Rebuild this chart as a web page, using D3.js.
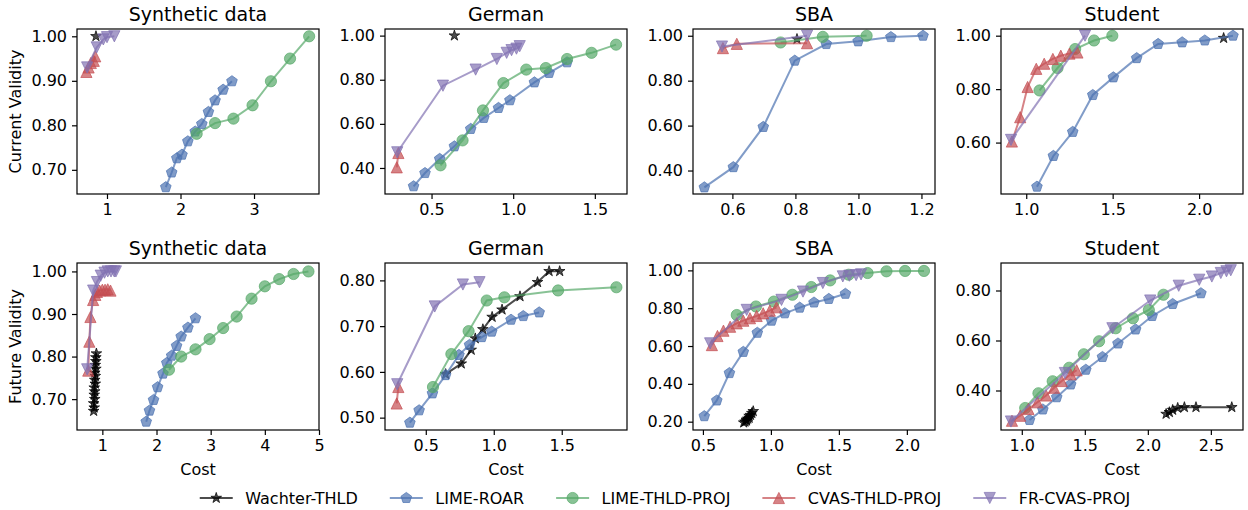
<!DOCTYPE html>
<html>
<head>
<meta charset="utf-8">
<script src="https://cdn.jsdelivr.net/npm/d3@7"></script>
<style>
  body { margin: 0; background: #fff; }
  svg text { font-family: "DejaVu Sans", sans-serif; fill: #000; }
</style>
</head>
<body>
<svg id="chart" width="1248" height="510"></svg>
<script>
const seriesNames = ["Wachter-THLD", "LIME-ROAR", "LIME-THLD-PROJ", "CVAS-THLD-PROJ", "FR-CVAS-PROJ"];
const seriesColors = ["#000000", "#4C72B0", "#55A868", "#C44E52", "#8172B2"];
const seriesMarkers = ["star", "pentagon", "circle", "triangleUp", "triangleDown"];
const datasetTitles = ["Synthetic data", "German", "SBA", "Student"];
const rowLabels = ["Current Validity", "Future Validity"];

// [cost, validity] pairs, one list per series (same order as seriesNames)
const curSynthetic = [
  [[0.85, 1.00]],
  [[1.80, 0.661], [1.88, 0.694], [1.95, 0.726], [2.02, 0.734], [2.10, 0.764], [2.20, 0.786], [2.29, 0.803], [2.38, 0.830], [2.47, 0.856], [2.58, 0.880], [2.70, 0.899]],
  [[2.22, 0.781], [2.47, 0.805], [2.72, 0.815], [2.98, 0.845], [3.23, 0.899], [3.49, 0.950], [3.75, 1.000]],
  [[0.72, 0.920], [0.75, 0.930], [0.78, 0.940], [0.82, 0.945], [0.84, 0.955]],
  [[0.73, 0.930], [0.86, 0.975], [0.95, 0.993], [1.00, 0.998], [1.10, 1.000]]
];
const curGerman = [
  [[0.64, 1.00]],
  [[0.39, 0.317], [0.46, 0.377], [0.55, 0.441], [0.64, 0.498], [0.74, 0.577], [0.82, 0.627], [0.91, 0.672], [0.98, 0.707], [1.13, 0.788], [1.22, 0.831], [1.33, 0.879]],
  [[0.555, 0.412], [0.69, 0.525], [0.815, 0.661], [0.94, 0.785], [1.08, 0.846], [1.20, 0.853], [1.33, 0.894], [1.48, 0.922], [1.63, 0.959]],
  [[0.287, 0.403], [0.297, 0.468]],
  [[0.29, 0.471], [0.57, 0.773], [0.77, 0.846], [0.90, 0.894], [0.96, 0.922], [0.99, 0.934], [1.02, 0.941], [1.04, 0.952]]
];
const curSBA = [
  [[0.805, 0.985]],
  [[0.511, 0.325], [0.603, 0.415], [0.698, 0.594], [0.798, 0.889], [0.898, 0.963], [0.999, 0.975], [1.103, 0.994], [1.205, 1.000]],
  [[0.753, 0.970], [0.887, 0.995], [1.026, 1.000]],
  [[0.570, 0.945], [0.614, 0.964], [0.837, 0.967]],
  [[0.567, 0.952], [0.837, 1.000]]
];
const curStudent = [
  [[2.142, 0.991]],
  [[1.062, 0.435], [1.157, 0.550], [1.269, 0.640], [1.385, 0.778], [1.504, 0.844], [1.639, 0.916], [1.763, 0.969], [1.902, 0.975], [2.033, 0.982], [2.196, 1.000]],
  [[1.077, 0.795], [1.181, 0.879], [1.283, 0.950], [1.392, 0.982], [1.498, 1.000]],
  [[0.917, 0.604], [0.965, 0.695], [1.008, 0.808], [1.058, 0.876], [1.104, 0.895], [1.154, 0.913], [1.200, 0.925], [1.250, 0.933], [1.296, 0.937]],
  [[0.912, 0.610], [1.340, 1.000]]
];
const futSynthetic = [
  [[0.84, 0.672], [0.85, 0.680], [0.84, 0.690], [0.86, 0.700], [0.85, 0.710], [0.86, 0.718], [0.85, 0.727], [0.87, 0.736], [0.86, 0.745], [0.87, 0.754], [0.86, 0.762], [0.88, 0.771], [0.87, 0.780], [0.88, 0.789], [0.88, 0.798], [0.89, 0.807]],
  [[1.81, 0.647], [1.87, 0.673], [1.945, 0.698], [2.02, 0.728], [2.12, 0.760], [2.19, 0.785], [2.28, 0.802], [2.37, 0.825], [2.455, 0.847], [2.58, 0.868], [2.72, 0.890]],
  [[2.23, 0.769], [2.455, 0.800], [2.72, 0.817], [2.98, 0.841], [3.23, 0.867], [3.48, 0.894], [3.755, 0.936], [4.00, 0.965], [4.265, 0.982], [4.53, 0.994], [4.805, 1.000]],
  [[0.74, 0.767], [0.76, 0.835], [0.78, 0.893], [0.83, 0.933], [0.87, 0.945], [0.90, 0.952], [0.95, 0.955], [1.00, 0.957], [1.05, 0.957], [1.10, 0.958], [1.15, 0.955]],
  [[0.72, 0.770], [0.83, 0.955], [0.90, 0.975], [0.97, 0.990], [1.04, 0.997], [1.10, 1.000], [1.16, 1.000], [1.22, 1.000], [1.25, 1.000]]
];
const futGerman = [
  [[0.646, 0.595], [0.761, 0.618], [0.834, 0.648], [0.864, 0.673], [0.920, 0.693], [0.988, 0.720], [1.061, 0.736], [1.193, 0.765], [1.322, 0.796], [1.407, 0.820], [1.485, 0.820]],
  [[0.383, 0.489], [0.451, 0.516], [0.549, 0.553], [0.646, 0.593], [0.744, 0.637], [0.822, 0.659], [0.912, 0.676], [0.985, 0.688], [1.127, 0.714], [1.217, 0.722], [1.334, 0.730]],
  [[0.553, 0.567], [0.688, 0.639], [0.815, 0.689], [0.948, 0.756], [1.078, 0.763], [1.473, 0.778], [1.902, 0.785]],
  [[0.286, 0.531], [0.298, 0.567]],
  [[0.290, 0.573], [0.566, 0.743], [0.773, 0.791], [0.895, 0.796]]
];
const futSBA = [
  [[0.80, 0.195], [0.81, 0.200], [0.82, 0.205], [0.82, 0.210], [0.83, 0.215], [0.84, 0.220], [0.84, 0.230], [0.85, 0.235], [0.86, 0.245], [0.87, 0.255]],
  [[0.510, 0.229], [0.602, 0.312], [0.695, 0.457], [0.797, 0.569], [0.900, 0.670], [1.005, 0.734], [1.102, 0.773], [1.212, 0.803], [1.317, 0.830], [1.426, 0.849], [1.548, 0.876]],
  [[0.749, 0.764], [0.890, 0.809], [1.022, 0.835], [1.158, 0.871], [1.297, 0.912], [1.436, 0.947], [1.572, 0.977], [1.711, 0.986], [1.850, 0.995], [1.987, 0.997], [2.126, 0.997]],
  [[0.566, 0.605], [0.607, 0.653], [0.651, 0.681], [0.700, 0.702], [0.749, 0.720], [0.797, 0.734], [0.846, 0.747], [0.895, 0.759], [0.943, 0.773], [0.992, 0.787], [1.041, 0.805]],
  [[0.553, 0.614], [0.822, 0.791], [1.078, 0.844], [1.236, 0.888], [1.382, 0.933], [1.529, 0.968], [1.577, 0.972], [1.627, 0.975], [1.663, 0.979]]
];
const futStudent = [
  [[2.145, 0.306], [2.171, 0.313], [2.197, 0.322], [2.237, 0.330], [2.290, 0.333], [2.382, 0.333], [2.666, 0.333]],
  [[1.061, 0.282], [1.167, 0.324], [1.277, 0.373], [1.388, 0.424], [1.508, 0.483], [1.640, 0.534], [1.763, 0.588], [1.903, 0.644], [2.034, 0.698], [2.197, 0.746], [2.421, 0.789]],
  [[1.027, 0.330], [1.132, 0.389], [1.245, 0.437], [1.376, 0.491], [1.492, 0.545], [1.613, 0.597], [1.745, 0.649], [1.882, 0.689], [2.008, 0.722], [2.124, 0.783]],
  [[0.922, 0.279], [0.987, 0.299], [1.053, 0.326], [1.124, 0.353], [1.193, 0.380], [1.256, 0.411], [1.317, 0.438], [1.388, 0.465], [1.435, 0.481]],
  [[0.914, 0.276], [1.342, 0.470], [1.719, 0.649], [2.019, 0.760], [2.245, 0.819], [2.408, 0.843], [2.508, 0.856], [2.579, 0.870], [2.624, 0.877], [2.658, 0.881]]
];

// tick values and axis limits per panel (row-major: top row then bottom row)
const xTickValues = [
  [1, 2, 3], [0.5, 1.0, 1.5], [0.6, 0.8, 1.0, 1.2], [1.0, 1.5, 2.0],
  [1, 2, 3, 4, 5], [0.5, 1.0, 1.5], [0.5, 1.0, 1.5, 2.0], [1.0, 1.5, 2.0, 2.5]
];
const xTickFormats = [".0f", ".1f", ".1f", ".1f", ".0f", ".1f", ".1f", ".1f"];
const yTickValues = [
  [0.7, 0.8, 0.9, 1.0], [0.4, 0.6, 0.8, 1.0], [0.4, 0.6, 0.8, 1.0], [0.6, 0.8, 1.0],
  [0.7, 0.8, 0.9, 1.0], [0.5, 0.6, 0.7, 0.8], [0.2, 0.4, 0.6, 0.8, 1.0], [0.4, 0.6, 0.8]
];
const xLimits = [
  [0.592, 3.884], [0.215, 1.697], [0.475, 1.243], [0.854, 2.254],
  [0.532, 5.0], [0.200, 1.980], [0.427, 2.207], [0.835, 2.755]
];
const yLimits = [
  [0.6457, 1.0164], [0.282, 1.030], [0.2955, 1.030], [0.4076, 1.025],
  [0.6275, 1.0198], [0.473, 0.838], [0.156, 1.039], [0.242, 0.910]
];

const panelData = [curSynthetic, curGerman, curSBA, curStudent, futSynthetic, futGerman, futSBA, futStudent];

// layout
const colLeft = [77, 385, 693, 1001];
const axW = 242;
const rowTop = [29, 263];
const rowH = [165, 167];
const fontSize = 16;
const titleSize = 19;
const markerR = 5.6;

function markerPath(type, r) {
  const p = d3.path();
  if (type === "circle") {
    p.arc(0, 0, r, 0, 2 * Math.PI);
  } else if (type === "triangleUp") {
    p.moveTo(0, -r); p.lineTo(-r, r); p.lineTo(r, r); p.closePath();
  } else if (type === "triangleDown") {
    p.moveTo(0, r); p.lineTo(-r, -r); p.lineTo(r, -r); p.closePath();
  } else if (type === "pentagon") {
    for (let i = 0; i < 5; i++) {
      const a = -Math.PI / 2 + i * 2 * Math.PI / 5;
      if (i === 0) p.moveTo(r * Math.cos(a), r * Math.sin(a));
      else p.lineTo(r * Math.cos(a), r * Math.sin(a));
    }
    p.closePath();
  } else if (type === "star") {
    for (let i = 0; i < 10; i++) {
      const a = -Math.PI / 2 + i * Math.PI / 5;
      const rr = i % 2 === 0 ? r : r * 0.382;
      if (i === 0) p.moveTo(rr * Math.cos(a), rr * Math.sin(a));
      else p.lineTo(rr * Math.cos(a), rr * Math.sin(a));
    }
    p.closePath();
  }
  return p.toString();
}

const svg = d3.select("#chart");
const defs = svg.append("defs");

panelData.forEach((series, idx) => {
  const row = Math.floor(idx / 4);
  const col = idx % 4;
  const left = colLeft[col];
  const top = rowTop[row];
  const h = rowH[row];

  const x = d3.scaleLinear().domain(xLimits[idx]).range([0, axW]);
  const y = d3.scaleLinear().domain(yLimits[idx]).range([h, 0]);

  const g = svg.append("g").attr("transform", `translate(${left},${top})`);

  defs.append("clipPath").attr("id", `clip${idx}`)
    .append("rect").attr("width", axW).attr("height", h);

  const plot = g.append("g").attr("clip-path", `url(#clip${idx})`);

  const line = d3.line().x(d => x(d[0])).y(d => y(d[1]));

  series.forEach((pts, s) => {
    const sg = plot.append("g");
    sg.append("path")
      .attr("d", line(pts))
      .attr("fill", "none")
      .attr("stroke", seriesColors[s])
      .attr("stroke-opacity", 0.7)
      .attr("stroke-width", 2);
    sg.selectAll("path.mk")
      .data(pts)
      .join("path")
      .attr("class", "mk")
      .attr("d", markerPath(seriesMarkers[s], markerR))
      .attr("transform", d => `translate(${x(d[0])},${y(d[1])})`)
      .attr("fill", seriesColors[s])
      .attr("fill-opacity", 0.7)
      .attr("stroke", seriesColors[s])
      .attr("stroke-opacity", 0.7)
      .attr("stroke-width", 1);
  });

  const xAxis = d3.axisBottom(x)
    .tickValues(xTickValues[idx])
    .tickFormat(d3.format(xTickFormats[idx]))
    .tickSize(5)
    .tickPadding(5);
  const yAxis = d3.axisLeft(y)
    .tickValues(yTickValues[idx])
    .tickFormat(d3.format(".2f"))
    .tickSize(5)
    .tickPadding(5);

  const gx = g.append("g").attr("transform", `translate(0,${h})`).call(xAxis);
  const gy = g.append("g").call(yAxis);
  [gx, gy].forEach(a => {
    a.select(".domain").remove();
    a.selectAll("line").attr("stroke", "#000").attr("stroke-width", 1.2);
    a.selectAll("text")
      .style("font-family", '"DejaVu Sans", sans-serif')
      .style("font-size", fontSize + "px")
      .attr("fill", "#000");
  });

  // frame (all four spines)
  g.append("rect")
    .attr("width", axW)
    .attr("height", h)
    .attr("fill", "none")
    .attr("stroke", "#000")
    .attr("stroke-width", 1.2);

  g.append("text")
    .attr("x", axW / 2)
    .attr("y", -8)
    .attr("text-anchor", "middle")
    .style("font-size", titleSize + "px")
    .text(datasetTitles[col]);

  if (col === 0) {
    g.append("text")
      .attr("transform", `translate(${15 - left},${h / 2}) rotate(-90)`)
      .attr("text-anchor", "middle")
      .attr("dominant-baseline", "central")
      .style("font-size", fontSize + "px")
      .text(rowLabels[row]);
  }
  if (row === 1) {
    g.append("text")
      .attr("x", axW / 2)
      .attr("y", h + 45)
      .attr("text-anchor", "middle")
      .style("font-size", fontSize + "px")
      .text("Cost");
  }
});

// legend, centred under the axes block
const legend = svg.append("g");
const handleLen = 33, handleGap = 12.5, colSpacing = 32;
let cursor = 0;
seriesNames.forEach((name, s) => {
  const item = legend.append("g");
  item.append("line")
    .attr("x1", 0).attr("x2", handleLen)
    .attr("stroke", seriesColors[s])
    .attr("stroke-opacity", 0.7)
    .attr("stroke-width", 2);
  item.append("path")
    .attr("d", markerPath(seriesMarkers[s], markerR))
    .attr("transform", `translate(${handleLen / 2},0)`)
    .attr("fill", seriesColors[s])
    .attr("fill-opacity", 0.7)
    .attr("stroke", seriesColors[s])
    .attr("stroke-opacity", 0.7)
    .attr("stroke-width", 1);
  const t = item.append("text")
    .attr("x", handleLen + handleGap)
    .attr("dominant-baseline", "central")
    .style("font-size", fontSize + "px")
    .text(name);
  const w = handleLen + handleGap + t.node().getComputedTextLength();
  item.attr("transform", `translate(${cursor},0)`);
  cursor += w + colSpacing;
});
const legendWidth = cursor - colSpacing;
legend.attr("transform", `translate(${665 - legendWidth / 2},498)`);
</script>
</body>
</html>
